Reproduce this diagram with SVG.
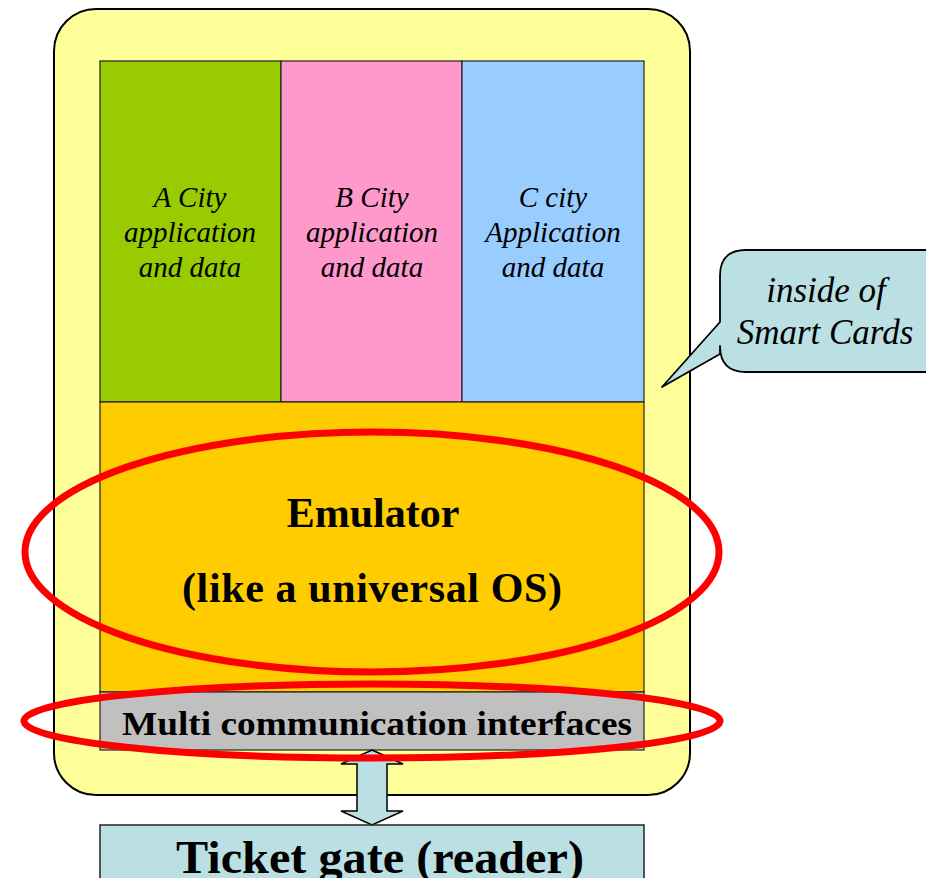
<svg xmlns="http://www.w3.org/2000/svg" width="926" height="878" viewBox="0 0 926 878">
<style>
.box{stroke:#222;stroke-width:1.2}
.it{font-family:"Liberation Serif","Times New Roman",serif;font-style:italic;fill:#000;text-anchor:middle}
.col{font-size:29px}
.bd{font-family:"Liberation Serif","Times New Roman",serif;font-weight:bold;fill:#000;text-anchor:middle}
.ring{fill:none;stroke:#FF0000;stroke-width:7}
</style>
<rect width="926" height="878" fill="#fff"/>
<g id="card">
<rect x="54" y="9" width="636" height="786" rx="42" ry="42" fill="#FFFF99" stroke="#000" stroke-width="2"/>
</g>
<g id="cityA">
<rect class="box" x="100" y="61" width="181" height="341" fill="#99CC00"/>
<text class="it col" x="190" y="207">A City</text>
<text class="it col" x="190" y="242">application</text>
<text class="it col" x="190" y="277">and data</text>
</g>
<g id="cityB">
<rect class="box" x="281" y="61" width="181" height="341" fill="#FF99CC"/>
<text class="it col" x="372" y="207">B City</text>
<text class="it col" x="372" y="242">application</text>
<text class="it col" x="372" y="277">and data</text>
</g>
<g id="cityC">
<rect class="box" x="462" y="61" width="182" height="341" fill="#99CCFF"/>
<text class="it col" x="553" y="207">C city</text>
<text class="it col" x="553" y="242">Application</text>
<text class="it col" x="553" y="277">and data</text>
</g>
<g id="emulator">
<rect class="box" x="100" y="402" width="544" height="290" fill="#FFCC00"/>
<text class="bd" x="373" y="527" style="font-size:42px">Emulator</text>
<text class="bd" x="372" y="602" style="font-size:42px" textLength="380" lengthAdjust="spacing">(like a universal OS)</text>
</g>
<g id="interfaces">
<rect class="box" x="100" y="692" width="544" height="58" fill="#C0C0C0"/>
<text class="bd" x="377" y="735" style="font-size:33px" textLength="510" lengthAdjust="spacingAndGlyphs">Multi communication interfaces</text>
</g>
<g id="connectors">
<polygon points="372,750 403,764 387,764 387,811 403,811 372,825 341,811 357,811 357,764 341,764" fill="#BBE0E3" stroke="#000" stroke-width="1.5" stroke-linejoin="miter"/>
</g>
<g id="reader">
<rect x="100" y="825" width="544" height="70" fill="#BBE0E3" stroke="#222" stroke-width="1.5"/>
<text class="bd" x="380" y="873" style="font-size:46px" textLength="408" lengthAdjust="spacingAndGlyphs">Ticket gate (reader)</text>
</g>
<g id="highlights">
<ellipse class="ring" cx="372" cy="552" rx="347" ry="120"/>
<ellipse class="ring" cx="372" cy="721" rx="348" ry="37"/>
</g>
<g id="callout">
<path d="M746,250 H940 V372 H746 Q720,372 720,346 V354 L662,387 L720,322 V276 Q720,250 746,250 Z" fill="#BBE0E3" stroke="#000" stroke-width="1.8" stroke-linejoin="round"/>
<text class="it" x="826" y="302" style="font-size:35px">inside of</text>
<text class="it" x="825" y="344" style="font-size:35px">Smart Cards</text>
</g>
</svg>
